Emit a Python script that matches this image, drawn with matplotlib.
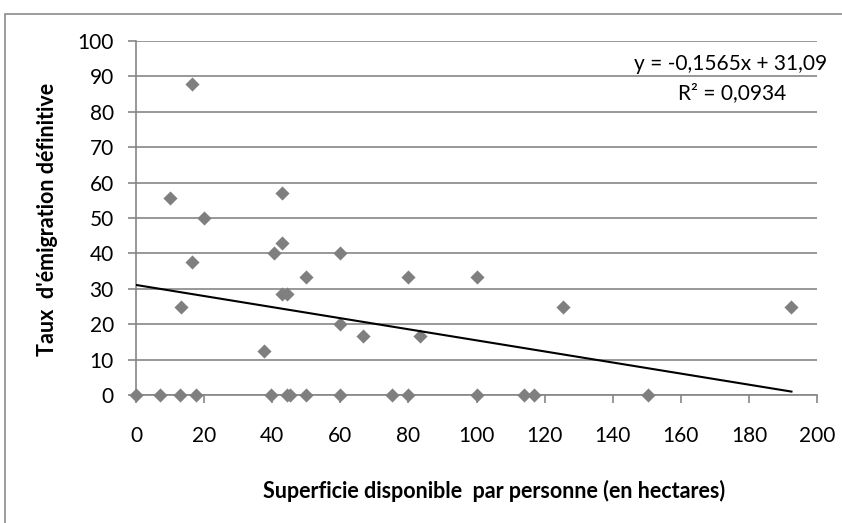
import matplotlib
matplotlib.use("Agg")
import matplotlib.pyplot as plt
from matplotlib.patches import Rectangle

# Superficie disponible par personne (ha) et taux d'émigration définitive (%)
superficie = [0, 7.1, 13, 17.5, 39.6, 44.2, 45.2, 50, 60, 75.3, 80, 100, 114, 117, 150.5,
              16.5, 10, 42.9, 20, 42.9, 40.5, 60, 16.5, 50, 42.9, 44.2, 13.3, 60, 66.7,
              37.5, 80, 100, 125.5, 192.5, 83.3]
taux = [0, 0, 0, 0, 0, 0, 0, 0, 0, 0, 0, 0, 0, 0, 0,
        87.8, 55.6, 57.1, 50, 42.9, 40, 40, 37.5, 33.3, 28.6, 28.6, 25, 20, 16.7,
        12.5, 33.3, 33.3, 25, 25, 16.7]

# Droite de tendance linéaire
pente = -0.1565
ordonnee = 31.09
r2 = 0.0934

x_ticks = list(range(0, 201, 20))
y_ticks = list(range(0, 101, 10))

FONT = ["Lato", "DejaVu Sans"]
GRID = "#868686"
MARK = "#7f7f7f"
FS = 15
FS_TITLE = 15.5

W, H = 842, 523
fig = plt.figure(figsize=(W / 100, H / 100), dpi=100)

# Cadre de la zone de graphique
fig.patches.append(Rectangle((5 / W, -0.1), 1.0, 1.1 - 14 / H, transform=fig.transFigure,
                             fill=False, edgecolor="#8c8c8c", linewidth=1.2))

ax = fig.add_axes([136 / W, 128 / H, (817 - 136) / W, (395 - 41) / H])
ax.set_xlim(0, 200)
ax.set_ylim(0, 100)

ax.yaxis.grid(True, color=GRID, linewidth=1.2)
ax.set_axisbelow(True)
for s in ["top", "right"]:
    ax.spines[s].set_visible(False)
for s in ["left", "bottom"]:
    ax.spines[s].set_color(GRID)
    ax.spines[s].set_linewidth(1.2)

ax.set_xticks(x_ticks)
ax.set_yticks(y_ticks)
ax.tick_params(axis="both", direction="out", color=GRID, width=1.2, length=6,
               labelsize=FS, labelcolor="black")
ax.tick_params(axis="x", pad=16)
ax.tick_params(axis="y", pad=10)
for lab in ax.get_xticklabels() + ax.get_yticklabels():
    lab.set_fontfamily(FONT)

ax.scatter(superficie, taux, marker="D", s=7.2 ** 2, color=MARK, zorder=3,
           clip_on=False, linewidths=0)

xmin, xmax = min(superficie), max(superficie)
ax.plot([xmin, xmax], [ordonnee + pente * xmin, ordonnee + pente * xmax],
        color="black", linewidth=1.5, zorder=4)

ax.text(1.015, 0.935, "y = -0,1565x + 31,09", transform=ax.transAxes,
        ha="right", va="center", fontsize=FS, family=FONT)
ax.text(0.955, 0.852, "R² = 0,0934", transform=ax.transAxes,
        ha="right", va="center", fontsize=FS, family=FONT)

fig.text(494 / W, 1 - 491 / H, "Superficie disponible  par personne (en hectares)",
         ha="center", va="center", fontsize=FS_TITLE, fontweight="bold", family=FONT)
fig.text(48 / W, 1 - 219 / H, "Taux  d'émigration définitive", rotation=90,
         ha="center", va="center", fontsize=FS_TITLE, fontweight="bold", family=FONT)

fig.savefig("out.png", dpi=100)
